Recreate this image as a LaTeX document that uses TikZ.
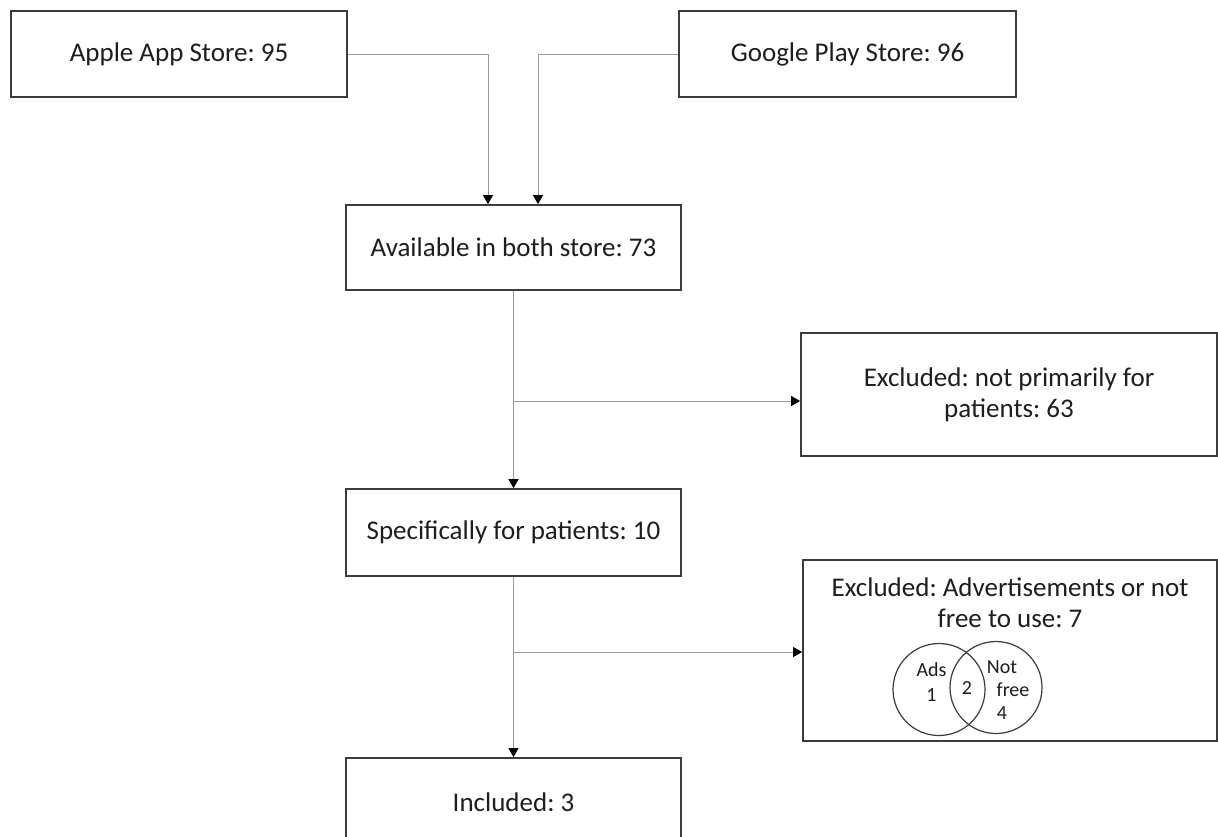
\documentclass[tikz,border=0pt]{standalone}
\usepackage{fontspec}
\setmainfont{Carlito}
\usetikzlibrary{arrows.meta}
\frenchspacing

\definecolor{boxline}{HTML}{3C3C3C}
\definecolor{linkline}{HTML}{9A9A9A}
\definecolor{inktext}{HTML}{1E1E1E}

\tikzset{
  box/.style={draw=boxline, line width=0.9pt, text=inktext, align=center,
    inner sep=0pt, font=\fontsize{13.5}{15.5}\selectfont},
  boxtext/.style={text=inktext, align=center, inner sep=0pt,
    font=\fontsize{13.5}{15.5}\selectfont},
  venntext/.style={text=inktext, align=center, inner sep=0pt,
    font=\fontsize{10}{12.5}\selectfont},
  link/.style={draw=linkline, line width=0.5pt,
    -{Triangle[length=4.5pt,width=5pt,color=black]}},
  venn/.style={draw=boxline, line width=0.6pt},
}

\begin{document}
\begin{tikzpicture}[x=0.5pt,y=-0.5pt]

\fill[white] (0,0) rectangle (1218,836);
\clip (0,0) rectangle (1218,836);

% stores
\node[box, minimum width=168pt, minimum height=43pt] (apple) at (179,54) {Apple App Store: 95};
\node[box, minimum width=168.5pt, minimum height=43pt] (google) at (847.5,54) {Google Play Store: 96};

% main column
\node[box, minimum width=167.5pt, minimum height=42.5pt] (avail) at (513.5,247.5) {Available in both store: 73};
\node[box, minimum width=167.5pt, minimum height=43.5pt] (spec) at (513.5,532.5) {Specifically for patients: 10};
\node[box, minimum width=167.5pt, minimum height=44pt] (incl) at (513.5,802) {Included: 3};

% exclusions
\node[box, minimum width=208pt, minimum height=61.5pt] (excl1) at (1009,394.5) {Excluded: not primarily for\\patients: 63};
\node[box, minimum width=207pt, minimum height=90.5pt] (excl2) at (1010,650.5) {};
\node[boxtext] (excl2txt) at (1010,602.5) {Excluded: Advertisements or not\\free to use: 7};

% venn diagram
\draw[venn] (939,689.5) circle (46);
\draw[venn] (996,687.5) circle (46);
\node[venntext] (ads) at (931.5,682.5) {Ads\\1};
\node[venntext] (both) at (967,688) {2};
\node[venntext] (nf1) at (1002,667) {Not};
\node[venntext] (nf2) at (1013,690) {free};
\node[venntext] (nf3) at (1002,713) {4};

% connectors
\draw[link] (apple.east) -| ([xshift=-12.75pt]avail.north);
\draw[link] (google.west) -| ([xshift=12.25pt]avail.north);
\draw[link] (avail.south) -- (spec.north);
\draw[link] (spec.south) -- (incl.north);

\coordinate (split1) at (513.5,401);
\coordinate (split2) at (513.5,652);
\draw[link] (split1) -- (split1 -| excl1.west);
\draw[link] (split2) -- (split2 -| excl2.west);

\end{tikzpicture}
\end{document}
